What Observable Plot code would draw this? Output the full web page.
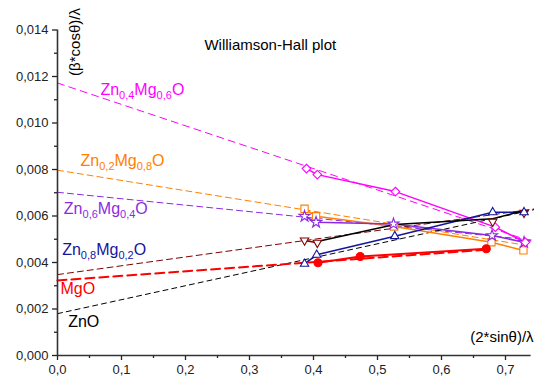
<!DOCTYPE html>
<html>
<head>
<meta charset="utf-8">
<script src="https://cdn.jsdelivr.net/npm/d3@7"></script>
<script src="https://cdn.jsdelivr.net/npm/@observablehq/plot@0.6"></script>
<style>
  html, body { margin: 0; padding: 0; background: #fff; }
  #chart { width: 534px; height: 380px; }
</style>
</head>
<body>
<div id="chart"></div>
<script>
// Williamson–Hall points: [2·sinθ/λ, β·cosθ/λ]
const zn04mg06 = [[0.389, 0.00804], [0.406, 0.00778], [0.528, 0.00705], [0.684, 0.00552], [0.731, 0.00487]];
const zn02mg08 = [[0.386, 0.00631], [0.404, 0.00599], [0.526, 0.00555], [0.678, 0.00487], [0.728, 0.00452]];
const zn06mg04 = [[0.386, 0.00599], [0.404, 0.00573], [0.525, 0.00566], [0.679, 0.00516], [0.729, 0.00487]];
const zn08mg02 = [[0.386, 0.00394], [0.405, 0.00433], [0.527, 0.00513], [0.680, 0.00616], [0.729, 0.00616]];
const darkRedSet = [[0.386, 0.00495], [0.406, 0.00485], [0.680, 0.00576], [0.729, 0.00614]];
const mgo = [[0.407, 0.00399], [0.473, 0.00426], [0.670, 0.00459]];
const zno = [[0.406, 0.00490], [0.527, 0.00563], [0.680, 0.00588], [0.729, 0.00624]];

// Linear fits, given by their two end points
const fitZn04 = [[0, 0.01172], [0.74, 0.00491]];
const fitZn02 = [[0, 0.00797], [0.73, 0.00475]];
const fitZn06 = [[0, 0.00702], [0.74, 0.00497]];
const fitDarkRed = [[0, 0.00348], [0.744, 0.00630]];
const fitMgO = [[0, 0.00323], [0.67, 0.00455]];
const fitZnO = [[0, 0.00180], [0.744, 0.00627]];

// Sample labels (text, left x, centre y); _{...} marks a subscript
const labelText = ["Zn_{0,4}Mg_{0,6}O", "Zn_{0,2}Mg_{0,8}O", "Zn_{0,6}Mg_{0,4}O", "Zn_{0,8}Mg_{0,2}O", "MgO", "ZnO"];
const labelX = [0.067, 0.036, 0.0099, 0.0073, 0.0047, 0.0167];
const labelY = [0.01144, 0.00837, 0.00631, 0.00453, 0.00287, 0.00146];

// Axis ticks
const xTicks = [0, 0.1, 0.2, 0.3, 0.4, 0.5, 0.6, 0.7];
const xMinor = [0.05, 0.15, 0.25, 0.35, 0.45, 0.55, 0.65];
const yTicks = [0, 0.002, 0.004, 0.006, 0.008, 0.010, 0.012, 0.014];
const yMinor = [0.001, 0.003, 0.005, 0.007, 0.009, 0.011, 0.013];

const colors = {
  zn04: "#ff00ff",
  zn02: "#ff8000",
  zn06: "#8a2be2",
  zn08: "#15159c",
  darkRed: "#800000",
  mgo: "#ff0000",
  zno: "#000000"
};
const labelColors = [colors.zn04, colors.zn02, colors.zn06, colors.zn08, colors.mgo, colors.zno];

// Downward-pointing triangle (d3 symbol interface)
const triangleDown = {
  draw(context, size) {
    const s = Math.sqrt(size) * 0.6824;
    const t = s / 2;
    const u = s * Math.sqrt(3) / 2;
    context.moveTo(0, s);
    context.lineTo(u, -t);
    context.lineTo(-u, -t);
    context.closePath();
  }
};

const toRows = (pts) => pts.map(([x, y]) => ({x, y}));
const comma = (n) => (d) => d.toFixed(n).replace(".", ",");

const labels = labelText.map((t, i) => ({t, x: labelX[i], y: labelY[i], c: labelColors[i]}));

const fitLine = (pts, stroke, extra = {}) =>
  Plot.line(toRows(pts), {x: "x", y: "y", stroke, strokeWidth: 1, strokeDasharray: "6,4", ...extra});
const dataLine = (pts, stroke, extra = {}) =>
  Plot.line(toRows(pts), {x: "x", y: "y", stroke, strokeWidth: 1.5, ...extra});
const dataDots = (pts, stroke, symbol, r, extra = {}) =>
  Plot.dot(toRows(pts), {x: "x", y: "y", stroke, symbol, r, fill: "white", strokeWidth: 1.1, ...extra});

const chart = Plot.plot({
  width: 534,
  height: 380,
  marginLeft: 57,
  marginRight: 3.4,
  marginTop: 29.5,
  marginBottom: 25,
  style: {fontFamily: "'Liberation Sans', Arial, sans-serif", fontSize: "13px", background: "#fff", overflow: "visible"},
  x: {domain: [0, 0.74], label: null},
  y: {domain: [0, 0.014], label: null},
  marks: [
    // fitted lines
    fitLine(fitZn04, colors.zn04, {strokeDasharray: "7,5"}),
    fitLine(fitZn02, colors.zn02),
    fitLine(fitZn06, colors.zn06),
    fitLine(fitDarkRed, colors.darkRed),
    fitLine(fitZnO, colors.zno, {strokeDasharray: "5,4"}),
    fitLine(fitMgO, colors.mgo, {strokeWidth: 2, strokeDasharray: "9,5"}),

    // measured data, connected
    dataLine(zn02mg08, colors.zn02),
    dataLine(zn06mg04, colors.zn06),
    dataLine(zn04mg06, colors.zn04),
    dataLine(darkRedSet.slice(0, 2), colors.darkRed),
    dataLine(zn08mg02, colors.zn08),
    dataLine(zno, colors.zno),
    dataLine(mgo, colors.mgo, {strokeWidth: 2}),

    // markers
    dataDots(zn02mg08, colors.zn02, "square", 4.1),
    dataDots(zn06mg04, colors.zn06, "star", 3.5),
    dataDots(zn04mg06, colors.zn04, "diamond2", 3.9),
    dataDots(darkRedSet, colors.darkRed, triangleDown, 4),
    dataDots(zn08mg02, colors.zn08, "triangle2", 4),
    dataDots(mgo, colors.mgo, "circle", 4, {fill: colors.mgo}),

    // axes
    Plot.axisX(xTicks, {tickSize: 5, tickPadding: 4, tickFormat: comma(1), fontSize: 13, color: "#222", strokeWidth: 1.3, label: null}),
    Plot.axisX(xMinor, {tickSize: 3, tickFormat: () => "", color: "#222", strokeWidth: 1.3, label: null}),
    Plot.axisY(yTicks, {tickSize: 5, tickPadding: 4, tickFormat: comma(3), fontSize: 13, color: "#222", strokeWidth: 1.3, label: null}),
    Plot.axisY(yMinor, {tickSize: 3, tickFormat: () => "", color: "#222", strokeWidth: 1.3, label: null}),
    Plot.ruleY([0], {stroke: "#333", strokeWidth: 1.6}),
    Plot.ruleX([0], {stroke: "#333", strokeWidth: 1.6}),

    // sample labels
    Plot.text(labels, {x: "x", y: "y", text: "t", fill: "c", textAnchor: "start", fontSize: 16}),

    // title and axis titles
    Plot.text(["Williamson-Hall plot"], {frameAnchor: "top", dx: -24, dy: 9.5, fontSize: 15, fill: "#000"}),
    Plot.text(["(2*sinθ)/λ"], {frameAnchor: "bottom-right", textAnchor: "end", dx: 2.5, dy: -14, fontSize: 15, fill: "#000"}),
    Plot.text(["(β*cosθ)/λ"], {frameAnchor: "top-left", rotate: -90, textAnchor: "middle", dx: 11.5, dy: 12, fontSize: 15, fill: "#000"})
  ]
});

// Turn the _{...} parts of the sample labels into subscripts
const SVGNS = "http://www.w3.org/2000/svg";
Array.from(chart.querySelectorAll("text"))
  .filter((node) => node.textContent.includes("_{"))
  .forEach((node) => {
    const raw = node.textContent;
    while (node.firstChild) node.removeChild(node.firstChild);
    let shifted = false;
    raw.split(/(_\{[^}]*\})/).filter(Boolean).forEach((part) => {
      const span = document.createElementNS(SVGNS, "tspan");
      if (part.startsWith("_{")) {
        span.textContent = part.slice(2, -1);
        span.setAttribute("font-size", "11");
        span.setAttribute("dy", shifted ? "0" : "4");
        shifted = true;
      } else {
        span.textContent = part;
        if (shifted) span.setAttribute("dy", "-4");
        shifted = false;
      }
      node.appendChild(span);
    });
  });

document.getElementById("chart").appendChild(chart);
</script>
</body>
</html>
